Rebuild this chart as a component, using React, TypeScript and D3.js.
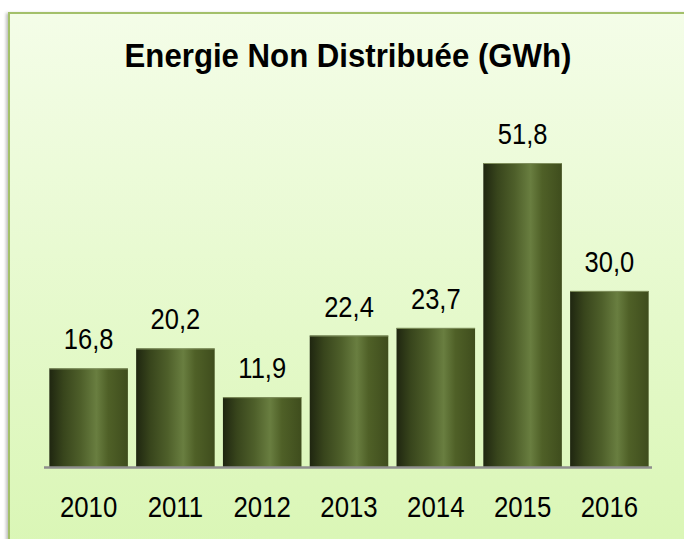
import { scaleBand, scaleLinear } from "d3";

const years = ["2010", "2011", "2012", "2013", "2014", "2015", "2016"];
const energy = [16.8, 20.2, 11.9, 22.4, 23.7, 51.8, 30.0];
const title = "Energie Non Distribuée (GWh)";

const W = 684;
const H = 539;
const baseY = 467;
const font = "'Liberation Sans', Arial, sans-serif";

export default function App() {
  const x = scaleBand<string>().domain(years).range([45, 653]).paddingInner(0.095).paddingOuter(0.05);
  const y = scaleLinear().domain([0, 51.8]).range([baseY, 163]);
  const fmt = (v: number) => v.toFixed(1).replace(".", ",");

  // narrow text: regular Liberation Sans squeezed horizontally
  const narrow = (cx: number, cy: number, sx: number) => `translate(${cx},${cy}) scale(${sx},1)`;

  return (
    <svg width={W} height={H} style={{ position: "absolute", left: 0, top: 0 }}>
      <defs>
        <linearGradient id="bg" x1="0" y1="0" x2="0" y2="1">
          <stop offset="0%" stopColor="#F4FDE8" />
          <stop offset="100%" stopColor="#D9F6B4" />
        </linearGradient>
        <linearGradient id="bar" x1="0" y1="0" x2="1" y2="0">
          <stop offset="0%" stopColor="#1F2610" />
          <stop offset="18%" stopColor="#38451C" />
          <stop offset="40%" stopColor="#4E5F2A" />
          <stop offset="60%" stopColor="#697E40" />
          <stop offset="75%" stopColor="#4F6027" />
          <stop offset="100%" stopColor="#3F4D1D" />
        </linearGradient>
        <filter id="sh" x="-5%" y="-5%" width="110%" height="110%">
          <feDropShadow dx="-2" dy="1" stdDeviation="1.5" floodColor="#000" floodOpacity="0.25" />
        </filter>
      </defs>
      <rect x={0} y={0} width={W} height={H} fill="#ffffff" />
      <rect x={9} y={13} width={W + 10} height={H + 10} fill="url(#bg)" stroke="#A3C06A" strokeWidth={2} filter="url(#sh)" />

      <text transform={narrow(348, 67, 0.945)} textAnchor="middle" fontFamily={font} fontWeight="bold" fontSize={33} fill="#000">
        {title}
      </text>

      {years.map((yr, i) => {
        const bx = x(yr) ?? 0;
        const cx = bx + x.bandwidth() / 2;
        const top = y(energy[i]);
        return (
          <g key={yr}>
            <rect x={bx} y={top} width={x.bandwidth()} height={baseY - top} fill="url(#bar)" />
            <line x1={bx} x2={bx + x.bandwidth()} y1={top + 0.5} y2={top + 0.5} stroke="#7F8F5C" strokeWidth={1} />
            <text transform={narrow(cx, top - 19, 0.85)} textAnchor="middle" fontFamily={font} fontSize={30} fill="#000">
              {fmt(energy[i])}
            </text>
            <text transform={narrow(cx, 517, 0.86)} textAnchor="middle" fontFamily={font} fontSize={30} fill="#000">
              {yr}
            </text>
          </g>
        );
      })}

      <line x1={44} x2={652} y1={467.5} y2={467.5} stroke="#8E8E8E" strokeWidth={2.5} />
    </svg>
  );
}
